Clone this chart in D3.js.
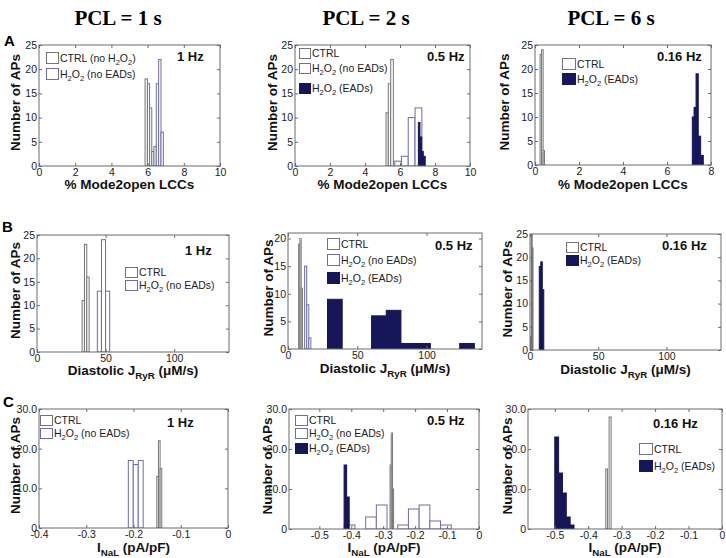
<!DOCTYPE html>
<html><head><meta charset="utf-8">
<script src="https://cdn.jsdelivr.net/npm/d3@7"></script>
<style>body{margin:0;background:#fff}</style>
</head><body><svg id="c" width="726" height="558" xmlns="http://www.w3.org/2000/svg"></svg>
<script>
// ---------- text ----------
const headers = ["PCL = 1 s", "PCL = 2 s", "PCL = 6 s"];
const rowLetters = ["A", "B", "C"];
const freqLabels = ["1 Hz", "0.5 Hz", "0.16 Hz"];

// ---------- tick labels ----------
const ticksA10 = [0, 2, 4, 6, 8, 10];
const ticksA8 = [0, 2, 4, 6, 8];
const ticksB = [0, 50, 100];
const ticksC1 = [-0.4, -0.3, -0.2, -0.1, 0];
const ticksC23 = [-0.5, -0.4, -0.3, -0.2, -0.1, 0];
const yTicks25 = [0, 5, 10, 15, 20, 25];
const yTicks20 = [0, 5, 10, 15, 20];
const yTicks30 = [0, 10, 20, 30];

// ---------- data: histogram bin edges and counts ----------
// Row A: % Mode2open LCCs
const a1CtrlEdges = [5.86, 5.99, 6.11, 6.23, 6.35];
const a1CtrlCounts = [18, 17, 12, 3];
const a1NoEadEdges = [6.35, 6.48, 6.61, 6.74, 6.87];
const a1NoEadCounts = [4, 17, 22, 7];

const a2CtrlEdges = [5.2, 5.33, 5.47, 5.62];
const a2CtrlCounts = [11, 17, 22];
const a2NoEadEdges = [5.7, 6.08, 6.47, 6.86, 7.25];
const a2NoEadCounts = [1, 2, 10, 12];
const a2EadEdges = [7.05, 7.14, 7.24, 7.33, 7.44];
const a2EadCounts = [9, 6, 3, 2];

const a3CtrlEdges = [0.23, 0.3, 0.37, 0.43];
const a3CtrlCounts = [23, 24, 3];
const a3EadEdges = [7.15, 7.23, 7.32, 7.42, 7.53, 7.65];
const a3EadCounts = [10, 12, 19, 6, 2];

// Row B: Diastolic J_RyR
const b1CtrlEdges = [32.9, 34.6, 36.3, 38.0];
const b1CtrlCounts = [11, 23, 16];
const b1NoEadEdges = [44, 47, 50, 53];
const b1NoEadCounts = [13, 24, 13];

const b2CtrlEdges = [7.7, 8.6, 9.5, 10.4];
const b2CtrlCounts = [19, 20, 11];
const b2NoEadEdges = [12.0, 13.5, 15.0, 16.5];
const b2NoEadCounts = [15, 8, 2];
const b2EadEdges = [28.5, 39.1, 49.7, 60.3, 70.9, 81.5, 92.1, 102.7, 113.3, 123.9, 134.5];
const b2EadCounts = [9, 0, 0, 6, 7, 1, 1, 0, 0, 1];

const b3CtrlEdges = [0.4, 1.0, 1.6, 2.2];
const b3CtrlCounts = [3, 25, 22];
const b3EadEdges = [6.8, 7.9, 9.0, 10.1];
const b3EadCounts = [18, 19, 13];

// Row C: I_NaL
const c1CtrlEdges = [-0.1507, -0.1472, -0.1437, -0.1401];
const c1CtrlCounts = [13, 22, 15];
const c1NoEadEdges = [-0.211, -0.2005, -0.19, -0.1795];
const c1NoEadCounts = [17, 16, 17];

const c2CtrlEdges = [-0.2785, -0.2748, -0.2711, -0.2674];
const c2CtrlCounts = [16, 24, 10];
const c2NoEadEdges = [-0.422, -0.3885, -0.355, -0.3215, -0.288, -0.2545, -0.221, -0.1875, -0.154, -0.1205, -0.087];
const c2NoEadCounts = [1, 0, 3, 6, 0, 1, 5, 6, 2, 1];
const c2EadEdges = [-0.4225, -0.4145, -0.4065];
const c2EadCounts = [16, 8];

const c3CtrlEdges = [-0.3475, -0.3425, -0.3375, -0.3315];
const c3CtrlCounts = [15, 0, 28];
const c3EadEdges = [-0.5, -0.4885, -0.477, -0.4655, -0.454, -0.4425];
const c3EadCounts = [23, 14, 9, 3, 1];

// ---------- styles ----------
const colCtrl = "#747474";
const colNoEad = "#6c6ca8";
const colEad = "#16165a";
const colAxis = "#6a6a6a";
const sansFont = "'Liberation Sans', Arial, sans-serif";

const styleOf = {
  ctrl: {stroke: colCtrl, fill: "#fff"},
  noEad: {stroke: colNoEad, fill: "#fff"},
  ead: {stroke: colEad, fill: colEad}
};

const H2O2 = [["H"], ["2", 1], ["O"], ["2", 1]];
const legCtrl = [["CTRL"]];
const legCtrlNoH = [["CTRL (no H"], ["2", 1], ["O"], ["2", 1], [")"]];
const legNoEad = H2O2.concat([[" (no EADs)"]]);
const legEad = H2O2.concat([[" (EADs)"]]);

const xLabA = [["% Mode2open LCCs"]];
const xLabB = [["Diastolic J"], ["RyR", 1], [" (\u03BCM/s)"]];
const xLabC = [["I"], ["NaL", 1], [" (pA/pF)"]];

const fmtC = v => v === 0 ? "0" : v.toFixed(1);
const fmtI = v => String(v);

const panels = [
  {r:0,c:0, box:[39,45,220,166], xd:[0,10], xt:ticksA10, yd:[0,25], yt:yTicks25, fmt:fmtI, xl:xLabA, xly:189, yly:20,
   series:[["ctrl",a1CtrlEdges,a1CtrlCounts],["noEad",a1NoEadEdges,a1NoEadCounts]],
   leg:{x:46,w:12,h:11,rows:[[52,"ctrl",legCtrlNoH],[68,"noEad",legNoEad]]}, fq:[177,61]},
  {r:0,c:1, box:[295,45,470,166], xd:[0,10], xt:ticksA10, yd:[0,25], yt:yTicks25, fmt:fmtI, xl:xLabA, xly:189, yly:277,
   series:[["ctrl",a2CtrlEdges,a2CtrlCounts],["noEad",a2NoEadEdges,a2NoEadCounts],["ead",a2EadEdges,a2EadCounts]],
   leg:{x:299,w:11,h:10,rows:[[48,"ctrl",legCtrl],[63,"noEad",legNoEad],[83,"ead",legEad]]}, fq:[427,61]},
  {r:0,c:2, box:[535,45,711,165], xd:[0,8], xt:ticksA8, yd:[0,25], yt:yTicks25, fmt:fmtI, xl:xLabA, xly:189, yly:509,
   series:[["ctrl",a3CtrlEdges,a3CtrlCounts],["ead",a3EadEdges,a3EadCounts]],
   leg:{x:562,w:13,h:11,rows:[[58,"ctrl",legCtrl],[73,"ead",legEad]]}, fq:[657,61]},

  {r:1,c:0, box:[37,235,229,352], xd:[0,140], xt:ticksB, yd:[0,25], yt:yTicks25, fmt:fmtI, xl:xLabB, xly:375, yly:20,
   series:[["ctrl",b1CtrlEdges,b1CtrlCounts],["noEad",b1NoEadEdges,b1NoEadCounts]],
   leg:{x:125,w:12,h:10,rows:[[267,"ctrl",legCtrl],[280,"noEad",legNoEad]]}, fq:[185,255]},
  {r:1,c:1, box:[288,233,482,349], xd:[0,140], xt:ticksB, yd:[0,21], yt:yTicks20, fmt:fmtI, xl:xLabB, xly:373, yly:273,
   series:[["ctrl",b2CtrlEdges,b2CtrlCounts],["noEad",b2NoEadEdges,b2NoEadCounts],["ead",b2EadEdges,b2EadCounts]],
   leg:{x:327,w:12,h:11,rows:[[238,"ctrl",legCtrl],[254,"noEad",legNoEad],[272,"ead",legEad]]}, fq:[435,250]},
  {r:1,c:2, box:[530,234,721,350], xd:[0,140], xt:ticksB, yd:[0,25], yt:yTicks25, fmt:fmtI, xl:xLabB, xly:374, yly:512,
   series:[["ctrl",b3CtrlEdges,b3CtrlCounts],["ead",b3EadEdges,b3EadCounts]],
   leg:{x:566,w:12,h:10,rows:[[242,"ctrl",legCtrl],[255,"ead",legEad]]}, fq:[662,250]},

  {r:2,c:0, box:[39,409,228,528], xd:[-0.4,0], xt:ticksC1, yd:[0,30], yt:yTicks30, fmt:fmtC, xl:xLabC, xly:552, yly:20,
   series:[["ctrl",c1CtrlEdges,c1CtrlCounts],["noEad",c1NoEadEdges,c1NoEadCounts]],
   leg:{x:40,w:12,h:10,rows:[[415,"ctrl",legCtrl],[428,"noEad",legNoEad]]}, fq:[167,427]},
  {r:2,c:1, box:[289,409,479,529], xd:[-0.595,0], xt:ticksC23, yd:[0,30], yt:yTicks30, fmt:fmtC, xl:xLabC, xly:552, yly:272,
   series:[["ctrl",c2CtrlEdges,c2CtrlCounts],["noEad",c2NoEadEdges,c2NoEadCounts],["ead",c2EadEdges,c2EadCounts]],
   leg:{x:295,w:12,h:10,rows:[[415,"ctrl",legCtrl],[428,"noEad",legNoEad],[443,"ead",legEad]]}, fq:[427,425]},
  {r:2,c:2, box:[528,409,722,529], xd:[-0.58,0], xt:ticksC23, yd:[0,30], yt:yTicks30, fmt:fmtC, xl:xLabC, xly:552, yly:512,
   series:[["ctrl",c3CtrlEdges,c3CtrlCounts],["ead",c3EadEdges,c3EadCounts]],
   leg:{x:639,w:13,h:11,rows:[[443,"ctrl",legCtrl],[460,"ead",legEad]]}, fq:[653,428]}
];

const svg = d3.select("#c");
svg.append("rect").attr("width",726).attr("height",558).attr("fill","#fff");

function rich(sel, segs, size, bold) {
  segs.forEach((s, i) => {
    const isSub = !!s[1];
    const prevSub = i > 0 && !!segs[i-1][1];
    const t = sel.append("tspan").text(s[0]);
    if (isSub) {
      t.attr("font-size", size * 0.72).attr("dy", prevSub ? 0 : size * 0.32);
    } else {
      t.attr("font-size", size);
      if (prevSub) t.attr("dy", -size * 0.32);
    }
  });
  if (bold) sel.attr("font-weight", "bold");
  return sel;
}

// headers
const headerX = [118, 366, 611];
headers.forEach((h, i) => {
  svg.append("text").attr("x", headerX[i]).attr("y", 25).attr("text-anchor", "middle")
    .attr("font-family", "'Liberation Serif', 'Times New Roman', serif").attr("font-weight", "bold")
    .attr("font-size", 21).attr("fill", "#000").text(h);
});
// row letters
const letterPos = [[4,46],[2,232],[3,407]];
rowLetters.forEach((l, i) => {
  svg.append("text").attr("x", letterPos[i][0]).attr("y", letterPos[i][1])
    .attr("font-family", sansFont).attr("font-weight", "bold").attr("font-size", 15).text(l);
});

panels.forEach(p => {
  const [x0, y0, x1, y1] = p.box;
  const x = d3.scaleLinear().domain(p.xd).range([x0, x1]);
  const y = d3.scaleLinear().domain(p.yd).range([y1, y0]);
  const g = svg.append("g");

  // bars
  const clipId = "clip" + p.r + p.c;
  g.append("clipPath").attr("id", clipId).append("rect")
    .attr("x", x0).attr("y", y0).attr("width", x1 - x0).attr("height", y1 - y0);
  const bars = g.append("g").attr("clip-path", `url(#${clipId})`);
  p.series.forEach(([type, edges, counts]) => {
    const st = styleOf[type];
    const bins = counts.map((c, i) => ({lo: edges[i], hi: edges[i+1], c}));
    bars.selectAll(null).data(bins.filter(b => b.c > 0)).enter().append("rect")
      .attr("x", d => x(d.lo)).attr("width", d => Math.max(0.5, x(d.hi) - x(d.lo)))
      .attr("y", d => y(d.c)).attr("height", d => y(0) - y(d.c))
      .attr("fill", st.fill).attr("stroke", st.stroke).attr("stroke-width", 1);
  });

  // axes
  const ax = g.append("g").attr("font-family", sansFont);
  const xb = ax.append("g").attr("transform", `translate(0,${y1})`)
    .call(d3.axisBottom(x).tickValues(p.xt).tickFormat(p.fmt).tickSizeInner(-3).tickSizeOuter(0));
  xb.selectAll("text").attr("y", 9.5).attr("dy", 0).attr("font-size", 10.5).attr("fill", "#222");
  ax.append("g").attr("transform", `translate(0,${y0})`)
    .call(d3.axisTop(x).tickValues(p.xt).tickFormat("").tickSizeInner(-3).tickSizeOuter(0));
  const yl = ax.append("g").attr("transform", `translate(${x0},0)`)
    .call(d3.axisLeft(y).tickValues(p.yt).tickFormat(p.fmt).tickSizeInner(-3).tickSizeOuter(0));
  yl.selectAll("text").attr("x", -2).attr("font-size", 10.5).attr("fill", "#222");
  ax.append("g").attr("transform", `translate(${x1},0)`)
    .call(d3.axisRight(y).tickValues(p.yt).tickFormat("").tickSizeInner(-3).tickSizeOuter(0));
  ax.selectAll(".domain").remove();
  ax.selectAll(".tick line").attr("stroke", colAxis);
  g.append("rect").attr("x", x0).attr("y", y0).attr("width", x1 - x0).attr("height", y1 - y0)
    .attr("fill", "none").attr("stroke", colAxis).attr("stroke-width", 1);

  // axis labels
  rich(g.append("text").attr("x", (x0 + x1) / 2).attr("y", p.xly).attr("text-anchor", "middle")
    .attr("font-family", sansFont).attr("fill", "#111"), p.xl, 13.5, true);
  g.append("text").attr("transform", `translate(${p.yly},${(y0 + y1) / 2 - 3}) rotate(-90)`)
    .attr("text-anchor", "middle").attr("font-family", sansFont).attr("font-weight", "bold")
    .attr("font-size", 13.5).attr("fill", "#111").text("Number of APs");

  // frequency
  g.append("text").attr("x", p.fq[0]).attr("y", p.fq[1]).attr("font-family", sansFont)
    .attr("font-weight", "bold").attr("font-size", 13).attr("fill", "#111").text(freqLabels[p.c]);

  // legend
  p.leg.rows.forEach(([ry, type, segs]) => {
    const st = styleOf[type];
    g.append("rect").attr("x", p.leg.x + 0.5).attr("y", ry + 0.5).attr("width", p.leg.w).attr("height", p.leg.h)
      .attr("fill", st.fill).attr("stroke", st.stroke).attr("stroke-width", 1);
    rich(g.append("text").attr("x", p.leg.x + p.leg.w + 2).attr("y", ry + p.leg.h - 1)
      .attr("font-family", sansFont).attr("fill", "#222"), segs, 10.5, false);
  });
});
</script>
</body></html>
